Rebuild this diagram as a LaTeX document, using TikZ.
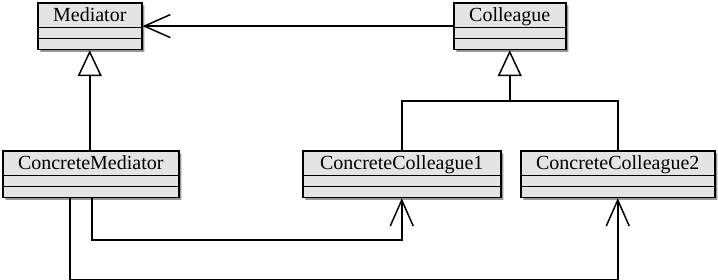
\documentclass[tikz,border=0pt]{standalone}
\usepackage{fontspec}
\setmainfont{Liberation Serif}
\usepackage{xcolor}
\definecolor{umlfill}{RGB}{228,228,228}
\definecolor{umlshadow}{RGB}{150,150,150}
\usetikzlibrary{arrows.meta, positioning, shapes.multipart, shadows, calc}
\newcommand{\umlname}[1]{\raisebox{0pt}[15pt][3pt]{#1}}

\tikzset{
  umlclass/.style={draw, line width=1.5pt, fill=umlfill, anchor=north west,
    rectangle split, rectangle split parts=3,
    rectangle split empty part height=0pt, rectangle split empty part depth=0pt,
    inner ysep=2.5pt, inner xsep=2pt,
    font=\fontsize{20}{24}\selectfont,
    drop shadow={shadow xshift=2.5pt, shadow yshift=-2.5pt, fill=umlshadow, opacity=1}},
  inherit/.style={line width=1.5pt, -{Triangle[open, length=26pt, width=24pt, fill=white]}},
  assoc/.style={line width=1.5pt, -{Straight Barb[length=26pt, width=23pt]}}
}

\begin{document}
\begin{tikzpicture}[x=1pt, y=-1pt]
\useasboundingbox (0,0) rectangle (718,279);

% --- Abstract classes ---
\node[umlclass, minimum width=104pt] (mediator) at (37,2) {\umlname{Mediator}\nodepart{two}\nodepart{three}};
\node[umlclass, minimum width=112pt] (colleague) at (453,2) {\umlname{Colleague}\nodepart{two}\nodepart{three}};

% --- Concrete classes ---
\node[umlclass, minimum width=176pt] (concrete-mediator) at (2,150) {\umlname{ConcreteMediator}\nodepart{two}\nodepart{three}};
\node[umlclass, minimum width=198pt] (concrete-colleague1) at (302,150) {\umlname{ConcreteColleague1}\nodepart{two}\nodepart{three}};
\node[umlclass, minimum width=194pt] (concrete-colleague2) at (520,150) {\umlname{ConcreteColleague2}\nodepart{two}\nodepart{three}};

% Colleague knows its Mediator
\draw[assoc] (colleague.west) -- (colleague.west -| mediator.east);

% Generalisations
\draw[inherit] (concrete-mediator.north -| mediator.south) -- (mediator.south);
\coordinate (colleague-bus) at ($(colleague.south)+(0,51)$);
\draw[line width=1.5pt] (concrete-colleague1.north) |- (colleague-bus) -| (concrete-colleague2.north);
\draw[inherit] (colleague-bus) -- (colleague.south);

% ConcreteMediator knows the concrete colleagues
\draw[assoc] ([xshift=1pt]concrete-mediator.south) -- ++(0,42) -| (concrete-colleague1.south);
\draw[assoc] ([xshift=-21pt]concrete-mediator.south) -- ++(0,82) -| (concrete-colleague2.south);

\end{tikzpicture}
\end{document}
